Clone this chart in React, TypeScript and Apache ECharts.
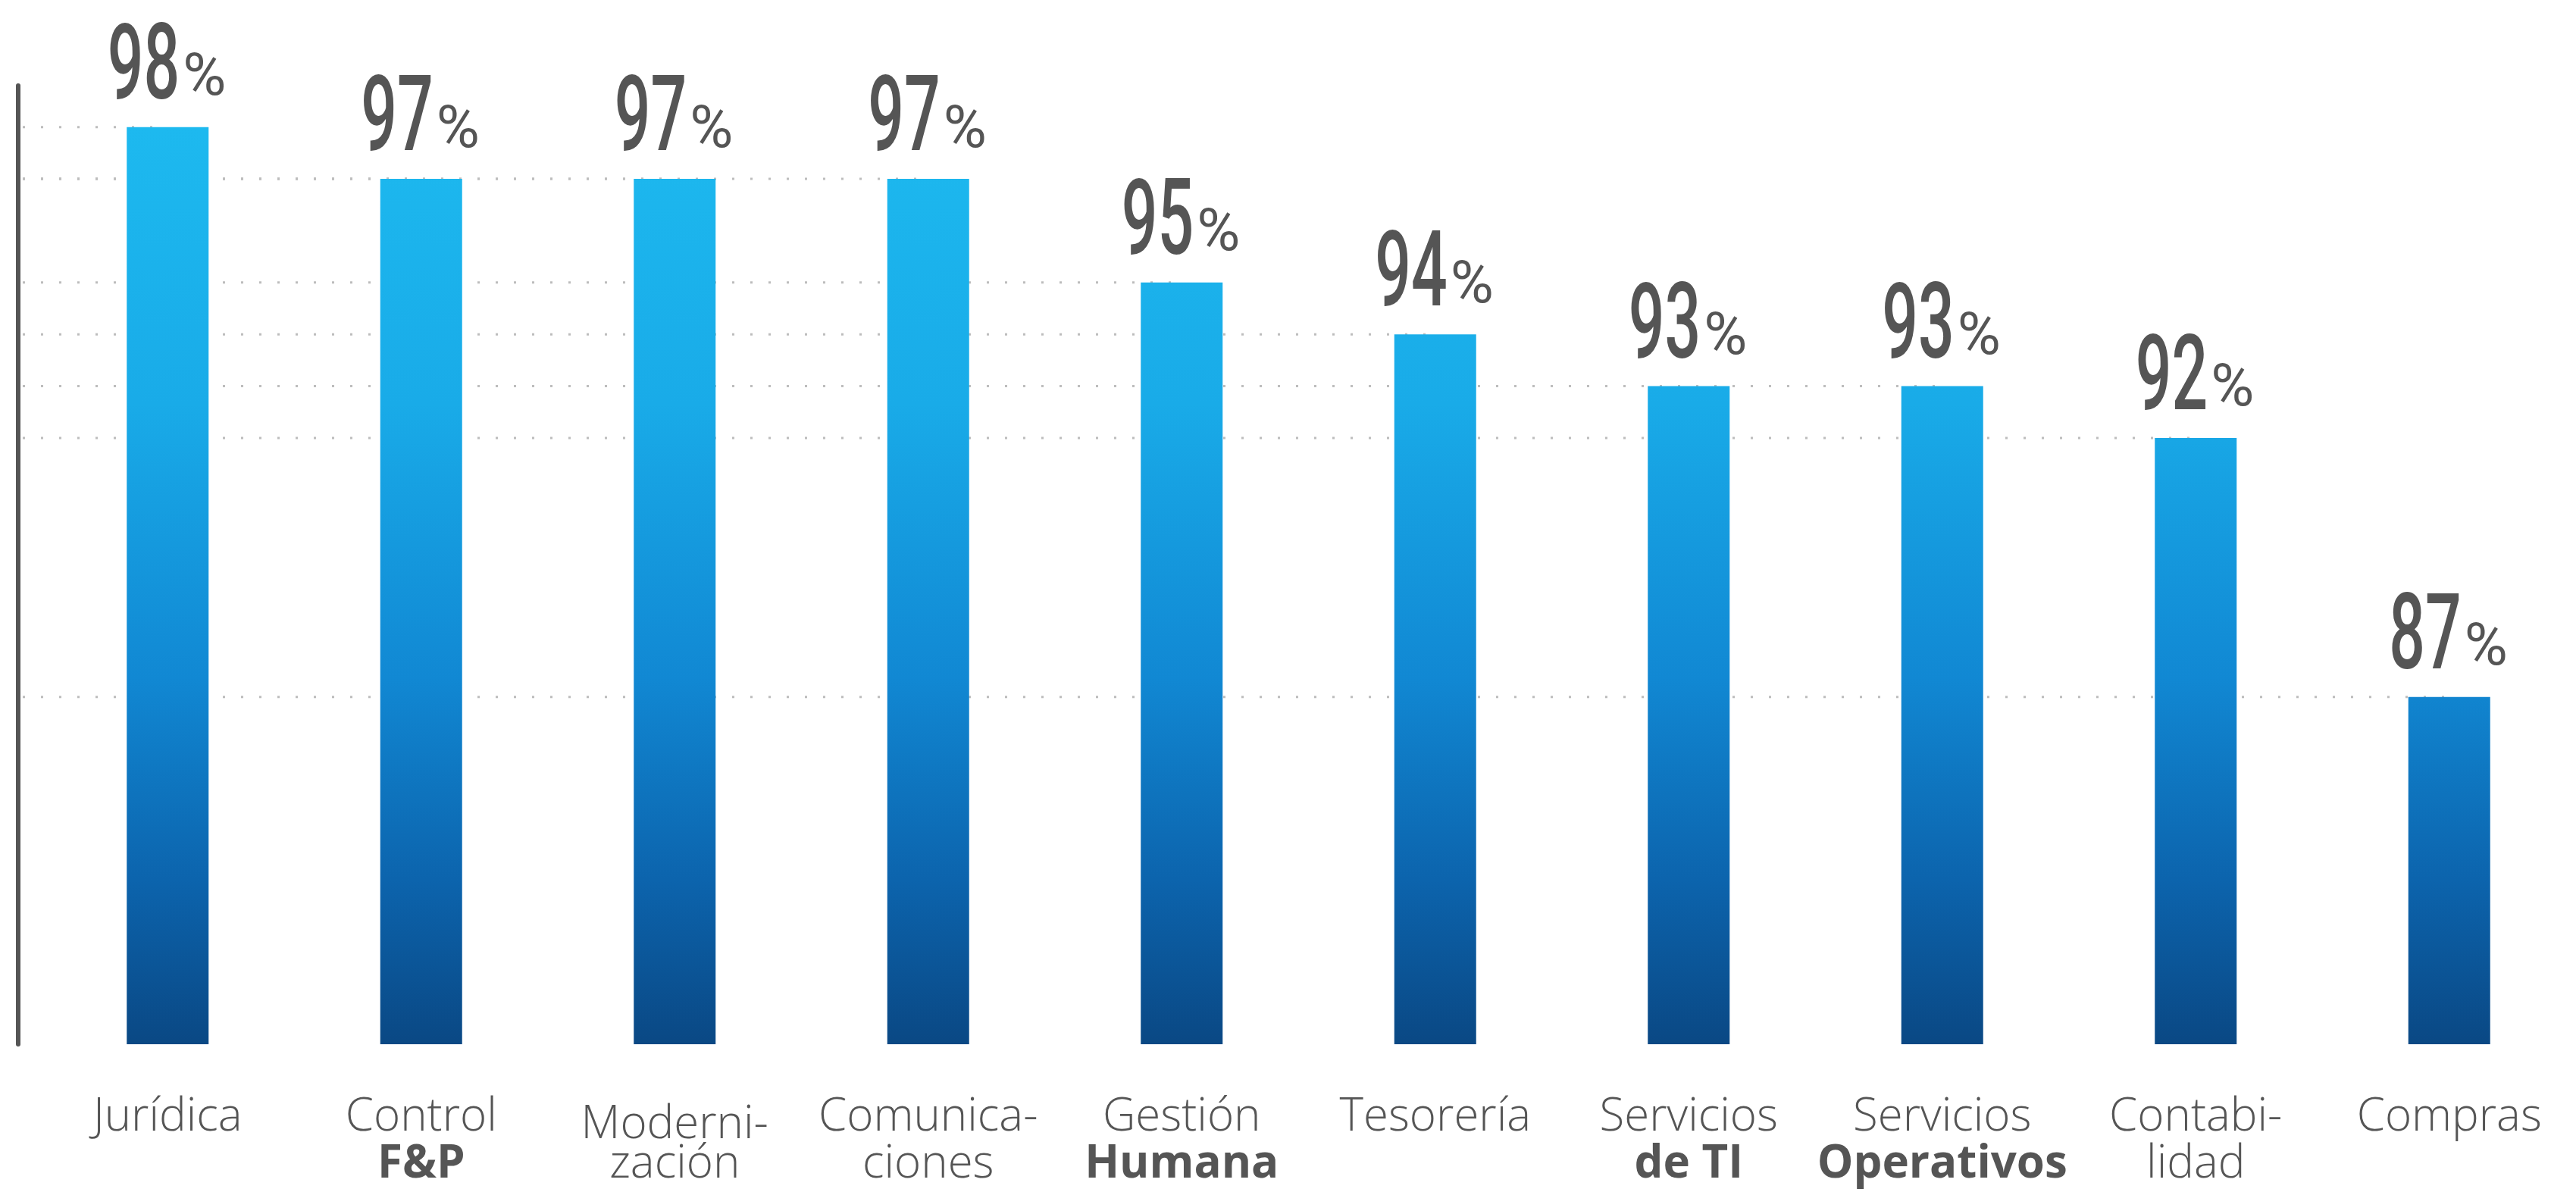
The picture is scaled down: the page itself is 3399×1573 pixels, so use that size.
import React, { useEffect, useRef } from "react";
import * as echarts from "echarts";

const categories = [
  "Jurídica",
  "Control\nF&P",
  "Moderni-\nzación",
  "Comunica-\nciones",
  "Gestión\nHumana",
  "Tesorería",
  "Servicios\nde TI",
  "Servicios\nOperativos",
  "Contabi-\nlidad",
  "Compras",
];
const boldSecondLine = [false, true, false, false, true, false, true, true, false, false];
const shiftedLabel = [false, false, true, false, false, false, false, false, false, false];
const values = [98, 97, 97, 97, 95, 94, 93, 93, 92, 87];

const Y_OFFSET = 30;

export default function App() {
  const ref = useRef<HTMLDivElement>(null);
  useEffect(() => {
    if (!ref.current) return;
    const chart = echarts.init(ref.current, null, { renderer: "svg" });
    const gray = "#555555";
    const labelFont = "'Open Sans', 'Noto Sans', sans-serif";
    const numFont = "Roboto, 'Noto Sans', sans-serif";
    chart.setOption({
      animation: false,
      backgroundColor: "#ffffff",
      grid: { left: 54, right: -14, top: 113, bottom: 195 },
      xAxis: {
        type: "category",
        data: categories,
        axisLine: { show: false },
        axisTick: { show: false },
        axisLabel: {
          interval: 0,
          margin: 60,
          formatter: (val: string, idx: number) => {
            const parts = val.split("\n");
            const first = shiftedLabel[idx] ? "m" : "r";
            if (parts.length === 1) return `{${first}|${parts[0]}}`;
            const second = boldSecondLine[idx] ? "b" : "r";
            return `{${first}|${parts[0]}}\n{${second}|${parts[1]}}`;
          },
          rich: {
            r: { fontFamily: labelFont, fontSize: 60, lineHeight: 62, color: gray, fontWeight: 300 },
            m: { fontFamily: labelFont, fontSize: 60, lineHeight: 62, color: gray, fontWeight: 300, padding: [20, 0, 0, 0] },
            b: { fontFamily: labelFont, fontSize: 60, lineHeight: 62, color: gray, fontWeight: "bold" },
          },
        },
      },
      yAxis: {
        type: "value",
        min: 80.3,
        max: 98.8,
        offset: Y_OFFSET,
        axisLine: { show: true, lineStyle: { color: gray, width: 6 } },
        axisTick: { show: false },
        axisLabel: { show: false },
        splitLine: { show: false },
      },
      series: [
        {
          type: "custom",
          z: 1,
          silent: true,
          data: values.map((v, i) => [i, v]),
          renderItem: (params: any, api: any) => {
            const p = api.coord([api.value(0), api.value(1)]);
            const x0 = params.coordSys.x - Y_OFFSET;
            return {
              type: "line",
              shape: { x1: x0 + 6, y1: p[1], x2: p[0], y2: p[1] },
              style: { stroke: "#bdbdbd", lineWidth: 3, lineDash: [3, 21] },
            };
          },
        },
        {
          type: "bar",
          z: 2,
          data: values,
          barWidth: 108,
          itemStyle: {
            color: {
              type: "linear",
              x: 0,
              y: 170,
              x2: 0,
              y2: 1378,
              global: true,
              colorStops: [
                { offset: 0, color: "#1db9ef" },
                { offset: 0.3, color: "#19abe8" },
                { offset: 0.6, color: "#1188d3" },
                { offset: 0.82, color: "#0c64ad" },
                { offset: 1, color: "#0a4884" },
              ],
            },
          },
        },
        {
          type: "custom",
          z: 3,
          silent: true,
          data: values.map((v, i) => [i, v]),
          renderItem: (params: any, api: any) => {
            const v = api.value(1);
            const p = api.coord([api.value(0), v]);
            return {
              type: "group",
              x: p[0],
              y: p[1] - 16,
              children: [
                {
                  type: "text",
                  x: 16,
                  y: 0,
                  scaleX: 0.6,
                  style: {
                    text: String(v),
                    fontFamily: numFont,
                    fontSize: 140,
                    fontWeight: 500,
                    fill: "#555555",
                    align: "right",
                    verticalAlign: "bottom",
                  },
                },
                {
                  type: "text",
                  x: 20,
                  y: -14,
                  style: {
                    text: "%",
                    fontFamily: numFont,
                    fontSize: 78,
                    fontWeight: 400,
                    fill: "#555555",
                    align: "left",
                    verticalAlign: "bottom",
                  },
                },
              ],
            };
          },
        },
      ],
    });
    return () => chart.dispose();
  }, []);
  return (
    <div
      ref={ref}
      style={{ position: "fixed", left: 0, top: 0, width: 3399, height: 1573, background: "#fff" }}
    />
  );
}
